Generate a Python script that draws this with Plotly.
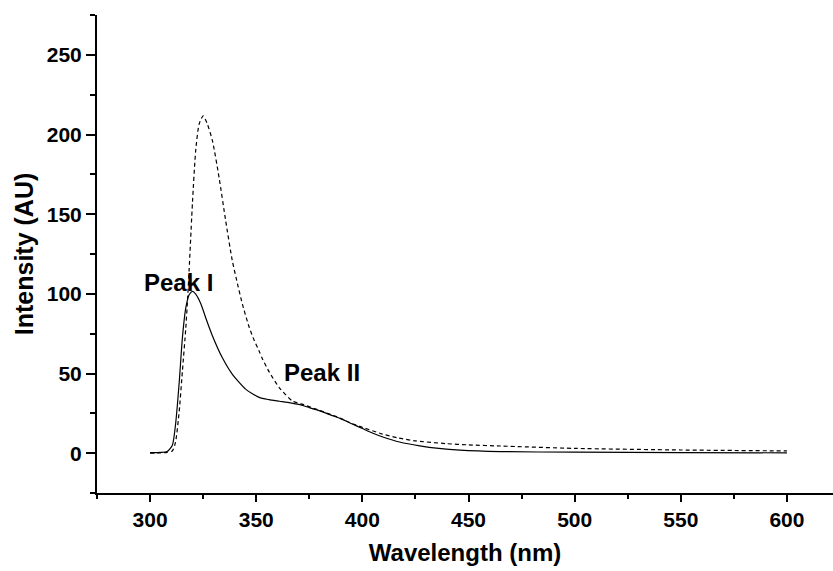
import plotly.graph_objects as go

# Solid curve (Peak I sample)
wl_solid = [300, 305, 308, 310.5, 312, 313.7, 315.2, 316.8, 318.4, 320, 321.5, 324, 326.2,
            329.4, 334, 338.7, 345, 351.4, 356, 361, 366, 370, 375, 380, 385, 390, 395, 400,
            405, 410, 417.5, 427, 436, 446, 465, 500, 550, 600]
int_solid = [0.3, 0.5, 1, 5, 18, 44, 72, 91, 99.4, 101.5, 99.8, 93.5, 85,
             73.6, 60, 49.6, 40.2, 35, 33.6, 32.6, 31.6, 30.6, 28.6, 26.5, 24, 21.5, 18.5, 15.5,
             12.5, 10, 7, 4.6, 3, 1.9, 1, 0.6, 0.4, 0.2]

# Dashed curve
wl_dash = [300, 305, 308, 310.5, 312, 313.7, 315.2, 316.8, 317.6, 318.4, 320, 321.5, 323.1, 325,
           327, 329.4, 332.5, 335.6, 338.7, 340.7, 343.5, 346.7, 349, 351.4, 353, 356.1, 360.8,
           367, 372.6, 380, 385, 390, 394, 400, 409.5, 417, 425.2, 439.4, 450, 465, 500, 550, 600]
int_dash = [0, 0.2, 0.5, 1.4, 7, 26, 51, 78, 95, 115, 158, 190, 206.5, 211.7,
            206.5, 196, 173, 146, 121, 109, 93.5, 79, 71, 64, 59, 51, 41.2,
            32.8, 30.3, 26.8, 24.3, 21.8, 19.2, 16.2, 12, 9.5, 7.7, 6, 5.2, 4.5, 3, 2, 1.4]

x_ticks = [300, 350, 400, 450, 500, 550, 600]
y_ticks = [0, 50, 100, 150, 200, 250]

font_family = "Liberation Sans, Arial, sans-serif"

fig = go.Figure()
fig.add_trace(go.Scatter(x=wl_dash, y=int_dash, mode="lines",
                         line=dict(color="black", width=1.2, dash="4px,3px", shape="spline", smoothing=0.6)))
fig.add_trace(go.Scatter(x=wl_solid, y=int_solid, mode="lines",
                         line=dict(color="black", width=1.2, shape="spline", smoothing=0.6)))

fig.add_annotation(x=296.2, y=107, text="Peak I", showarrow=False, xanchor="left", yanchor="middle",
                   font=dict(family=font_family, size=24, color="black", weight="bold"))
fig.add_annotation(x=362.1, y=50.6, text="Peak II", showarrow=False, xanchor="left", yanchor="middle",
                   font=dict(family=font_family, size=24, color="black", weight="bold"))

fig.update_layout(
    width=833, height=571,
    margin=dict(l=97, r=0, t=15, b=78),
    plot_bgcolor="white", paper_bgcolor="white",
    showlegend=False,
    font=dict(family=font_family, color="black"),
)
fig.update_xaxes(
    range=[275, 621.7], showgrid=False, zeroline=False,
    showline=True, linecolor="black", linewidth=2,
    tickmode="array", tickvals=x_ticks, ticktext=[str(v) for v in x_ticks],
    ticks="outside", ticklen=7, tickwidth=2, tickcolor="black",
    tickfont=dict(family=font_family, size=21, color="black", weight="bold"),
    minor=dict(tickmode="linear", tick0=275, dtick=25, ticks="outside", ticklen=4, tickwidth=2, tickcolor="black", showgrid=False),
    title=dict(text="Wavelength (nm)", standoff=14,
               font=dict(family=font_family, size=24, color="black", weight="bold")),
)
fig.update_yaxes(
    range=[-25, 275], showgrid=False, zeroline=False,
    showline=True, linecolor="black", linewidth=2,
    tickmode="array", tickvals=y_ticks, ticktext=[str(v) for v in y_ticks],
    ticks="outside", ticklen=9, tickwidth=2, tickcolor="black",
    tickfont=dict(family=font_family, size=21, color="black", weight="bold"),
    minor=dict(tickmode="linear", tick0=0, dtick=25, ticks="outside", ticklen=5, tickwidth=2, tickcolor="black", showgrid=False),
    title=dict(text="Intensity (AU)", standoff=6,
               font=dict(family=font_family, size=25, color="black", weight="bold")),
)

fig.write_html("out.html")
